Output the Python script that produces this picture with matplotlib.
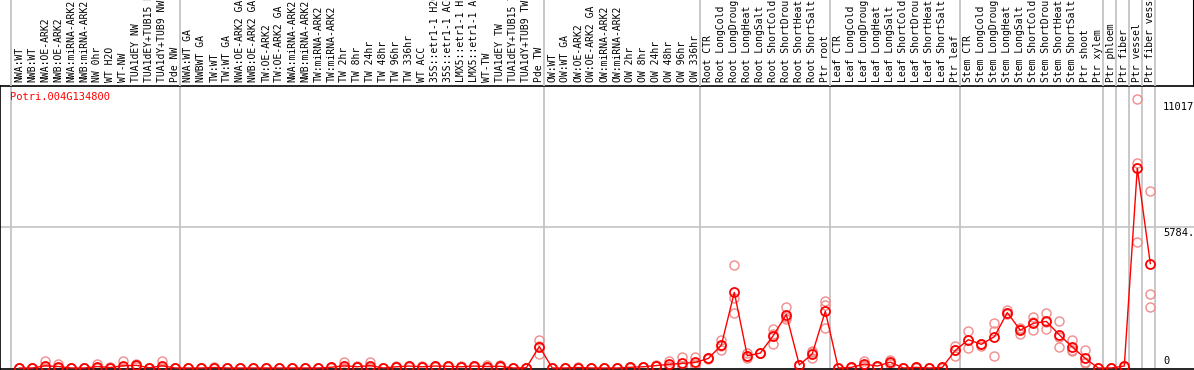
import numpy as np
import matplotlib
matplotlib.use('Agg')
import matplotlib.pyplot as plt

gene = 'Potri.004G134800'

samples = [
    'NWA:WT', 'NWB:WT', 'NWA:OE-ARK2', 'NWB:OE-ARK2', 'NWA:miRNA-ARK2', 'NWB:miRNA-ARK2',
    'NW 0hr', 'WT H2O', 'WT-NW', 'TUA1dEY NW', 'TUA1dEY+TUB15 NW', 'TUA1dY+TUB9 NW', 'Pde NW',
    'NWA:WT GA', 'NWBWT GA', 'TW:WT', 'TW:WT GA', 'NWA:OE-ARK2 GA', 'NWB:OE-ARK2 GA',
    'TW:OE-ARK2', 'TW:OE-ARK2 GA', 'NWA:miRNA-ARK2', 'NWB:miRNA-ARK2', 'TW:miRNA-ARK2',
    'TW:miRNA-ARK2', 'TW 2hr', 'TW 8hr', 'TW 24hr', 'TW 48hr', 'TW 96hr', 'TW 336hr', 'WT ACC',
    '35S::etr1-1 H2O', '35S::etr1-1 ACC', 'LMX5::etr1-1 H2O', 'LMX5::etr1-1 ACC', 'WT-TW',
    'TUA1dEY TW', 'TUA1dEY+TUB15 TW', 'TUA1dY+TUB9 TW', 'Pde TW',
    'OW:WT', 'OW:WT GA', 'OW:OE-ARK2', 'OW:OE-ARK2 GA', 'OW:miRNA-ARK2', 'OW:miRNA-ARK2',
    'OW 2hr', 'OW 8hr', 'OW 24hr', 'OW 48hr', 'OW 96hr', 'OW 336hr',
    'Root CTR', 'Root LongCold', 'Root LongDroug', 'Root LongHeat', 'Root LongSalt',
    'Root ShortCold', 'Root ShortDrou', 'Root ShortHeat', 'Root ShortSalt', 'Ptr root',
    'Leaf CTR', 'Leaf LongCold', 'Leaf LongDroug', 'Leaf LongHeat', 'Leaf LongSalt',
    'Leaf ShortCold', 'Leaf ShortDrou', 'Leaf ShortHeat', 'Leaf ShortSalt', 'Ptr leaf',
    'Stem CTR', 'Stem LongCold', 'Stem LongDroug', 'Stem LongHeat', 'Stem LongSalt',
    'Stem ShortCold', 'Stem ShortDrou', 'Stem ShortHeat', 'Stem ShortSalt', 'Ptr shoot',
    'Ptr xylem', 'Ptr phloem', 'Ptr fiber', 'Ptr vessel', 'Ptr fiber vessel',
]

means = [
    0, 0, 90, 60, 0, 0, 60, 20, 90, 110, 10, 90, 0,
    0, 0, 20, 0, 0, 0, 0, 0, 0, 0, 0, 30, 90, 50, 100, 0, 50, 80, 50,
    80, 70, 50, 80, 60, 70, 0, 10, 880,
    0, 0, 20, 0, 0, 0, 30, 50, 100, 150, 190, 230,
    390, 930, 3100, 500, 610, 1330, 2190, 125, 580, 2330,
    0, 25, 160, 80, 240, 0, 25, 0, 25, 720,
    1160, 970, 1280, 2270, 1550, 1830, 1910, 1360, 860, 390,
    0, 0, 80, 8190, 4280,
]

rep1 = [
    0, 0, 290, 170, 0, 0, 170, 40, 270, 170, 20, 290, 0,
    0, 0, 40, 0, 0, 0, 0, 0, 0, 0, 0, 50, 260, 70, 230, 0, 70, 100, 70,
    100, 90, 70, 100, 110, 110, 0, 20, 1160,
    0, 0, 30, 0, 0, 0, 40, 60, 120, 290, 470, 440,
    400, 1160, 4240, 600, 620, 1610, 2510, 130, 700, 2760,
    0, 40, 300, 100, 340, 0, 40, 0, 40, 910,
    1500, 1000, 1830, 2370, 1650, 2070, 2250, 1910, 1160, 720,
    0, 0, 100, 11017, 7260,
]

rep2 = [
    0, 0, 0, 10, 0, 0, 10, 20, 0, 100, 10, 0, 0,
    0, 0, 20, 0, 0, 0, 0, 0, 0, 0, 0, 30, 10, 50, 50, 0, 50, 80, 50,
    80, 70, 50, 80, 50, 70, 0, 10, 570,
    0, 0, 20, 0, 0, 0, 30, 50, 100, 100, 60, 150,
    380, 900, 2250, 480, 600, 1000, 2070, 120, 400, 2600,
    0, 25, 100, 80, 200, 0, 25, 0, 25, 500,
    820, 920, 1530, 2200, 1410, 1550, 1580, 880, 680, 220,
    0, 0, 80, 5150, 3035,
]

rep3 = [
    0, 0, 0, 0, 0, 0, 0, 0, 0, 60, 0, 0, 0,
    0, 0, 0, 0, 0, 0, 0, 0, 0, 0, 0, 10, 0, 30, 20, 0, 30, 60, 30,
    60, 50, 30, 60, 20, 30, 0, 0, 910,
    0, 0, 10, 0, 0, 0, 20, 40, 80, 60, 40, 100,
    390, 730, 2860, 420, 610, 1380, 1990, 125, 640, 1650,
    0, 10, 80, 60, 180, 0, 10, 0, 10, 750,
    1160, 990, 500, 2240, 1590, 1870, 1900, 1290, 740, 230,
    0, 0, 60, 8400, 2520,
]

# sample index where a new block starts
block_starts = [0, 13, 41, 53, 63, 73, 84, 85, 86, 87, 88]
ref_lines = [5784, 11017]

W, H = 1194, 370
fig = plt.figure(figsize=(W / 100, H / 100), dpi=100)

x = np.arange(len(samples))
px = 13.0          # pixels per sample
x0 = 19.3          # pixel of first sample
xlim = (-x0 / px, (W - x0) / px)
scale = 0.0244     # pixels per unit
y_zero = 368
ax_top, ax_bot = 86, 369
ylim = ((y_zero - ax_bot) / scale, (y_zero - ax_top) / scale)

ax = fig.add_axes([0, (H - ax_bot) / H, 1, (ax_bot - ax_top) / H])
lab = fig.add_axes([0, (H - ax_top) / H, 1, ax_top / H])

for a in (ax, lab):
    a.set_xlim(*xlim)
    a.set_xticks([])
    a.set_yticks([])
    a.patch.set_alpha(0)
    for b in block_starts:
        a.axvline(b - 0.64, color='#c4c4c4', lw=1.3, zorder=0)

ax.set_ylim(*ylim)
ax.spines['right'].set_visible(False)
for s in ('top', 'left', 'bottom'):
    ax.spines[s].set_linewidth(1.2)
for s in ('top', 'left', 'bottom'):
    lab.spines[s].set_visible(False)
lab.spines['right'].set_linewidth(1.5)
lab.set_ylim(0, 1)

ax.axhline(ref_lines[0], color='#c4c4c4', lw=1.2, zorder=0)

mono = 'DejaVu Sans Mono'
for i, name in enumerate(samples):
    lab.text(i, 0.05, name, rotation=90, ha='center', va='bottom',
             fontsize=7, family=mono, color='black')

rep_color = '#f08c8c'
for r in (rep1, rep2, rep3):
    ax.plot(x, r, 'o', ms=6.5, mfc='none', mec=rep_color, mew=1.0, zorder=2)
ax.plot(x, means, '-', color='red', lw=1.0, zorder=3)
ax.plot(x, means, 'o', ms=6.5, mfc='none', mec='red', mew=1.3, zorder=4)

ax.text(0.008, 0.96, gene, transform=ax.transAxes, color='red',
        fontsize=7.5, family=mono, va='center', ha='left')

for v, lbl, dy, va in [(ref_lines[1], '11017', -3, 'top'),
                       (ref_lines[0], '5784.', -1, 'top'),
                       (0, '0', 2, 'bottom')]:
    ax.annotate(lbl, xy=(1163 / W, v), xycoords=('axes fraction', 'data'),
                xytext=(0, dy), textcoords='offset pixels',
                fontsize=7.5, family=mono, va=va, ha='left', annotation_clip=False)

fig.savefig('out.png', dpi=100)
